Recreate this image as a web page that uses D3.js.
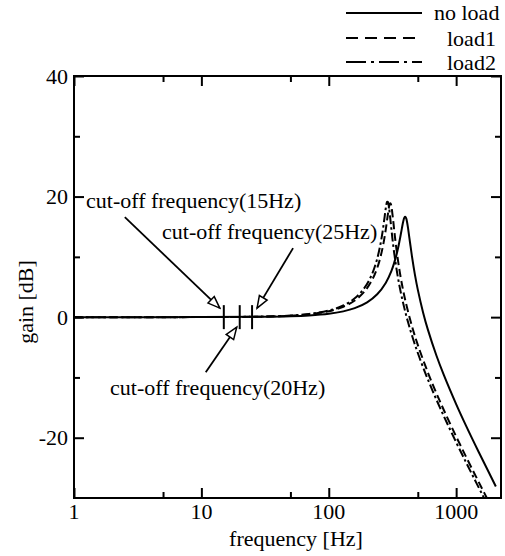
<!DOCTYPE html>
<html><head><meta charset="utf-8">
<script src="https://cdn.jsdelivr.net/npm/d3@7"></script>
<style>
body{margin:0;background:#fff}
svg{display:block}
text{font-family:"Liberation Serif","Times New Roman",serif;font-size:22px;fill:#000}
</style>
</head><body><svg id="c" width="505" height="556"></svg>
<script>
// ---- data ----
const seriesNames = ["no load", "load1", "load2"];
const noLoadFreq = [1,10,30,50,70,100,130,160,200,240,280,310,340,360,375,385,392,398,405,412,420,435,450,475,500,550,600,700,800,1000,1200,1500,1800,2050];
const noLoadGain = [0,0.01,0.05,0.14,0.27,0.55,0.96,1.49,2.46,3.8,5.68,7.63,10.33,12.71,14.73,15.94,16.51,16.67,16.42,15.74,14.64,12.3,10.09,7.02,4.56,0.79,-2.07,-6.36,-9.58,-14.42,-18.08,-22.33,-25.69,-28.1];
const load1Freq = [1,10,30,50,70,100,130,160,190,220,245,265,280,290,297,302,306,311,318,328,340,360,380,400,450,500,600,700,800,1000,1200,1400,1600,1750];
const load1Gain = [0,0.01,0.08,0.24,0.47,0.98,1.73,2.77,4.21,6.26,8.72,11.56,14.49,16.8,18.26,18.85,18.85,18.24,16.65,14.04,11.25,7.63,4.88,2.67,-1.5,-4.6,-9.18,-12.62,-15.4,-19.79,-23.22,-26.05,-28.47,-30.08];
const load2Freq = [1,10,30,50,70,100,130,160,190,215,235,252,265,275,282,287,291,296,303,313,325,345,365,390,420,470,550,650,800,1000,1200,1400,1600,1700];
const load2Gain = [0,0.01,0.09,0.26,0.52,1.09,1.93,3.12,4.8,6.79,9,11.61,14.28,16.77,18.42,19.12,19.13,18.44,16.66,13.84,10.93,7.22,4.43,1.7,-0.9,-4.28,-8.32,-12.11,-16.41,-20.75,-24.15,-26.97,-29.38,-30.47];
const xTickValues = [1, 10, 100, 1000];
const xMinorTicks = [5, 50, 500];
const yTickValues = [40, 20, 0, -20];
const yMinorTicks = [30, 10, -10];
const cutoffFreqs = [15, 20, 25];
const cutoffLabels = ["cut-off frequency(15Hz)", "cut-off frequency(20Hz)", "cut-off frequency(25Hz)"];

// ---- layout ----
const svg = d3.select("#c");
const L = 74, R = 501, T = 76, B = 498;
const x = d3.scaleLog().domain([1, 2250]).range([L, R]);
const y = d3.scaleLinear().domain([-30, 40]).range([B, T]);

const defs = svg.append("defs");
defs.append("clipPath").attr("id", "clip").append("rect")
  .attr("x", L).attr("y", T).attr("width", R - L).attr("height", B - T);
defs.append("marker").attr("id", "arr")
  .attr("viewBox", "-14 -7 16 14").attr("refX", 0).attr("refY", 0)
  .attr("markerWidth", 16).attr("markerHeight", 14)
  .attr("markerUnits", "userSpaceOnUse").attr("orient", "auto")
  .append("path").attr("d", "M0,0L-12,-4.5L-12,4.5Z")
  .attr("fill", "#fff").attr("stroke", "#000").attr("stroke-width", 1.5);

// axes ticks (inward on all sides)
function styleAxis(g) {
  g.select(".domain").remove();
  g.selectAll(".tick line").attr("stroke", "#000").attr("stroke-width", 2);
  g.selectAll(".tick text").remove();
}
svg.append("g").attr("transform", `translate(0,${B})`)
  .call(d3.axisBottom(x).tickValues(xTickValues).tickSize(-10)).call(styleAxis);
svg.append("g").attr("transform", `translate(0,${B})`)
  .call(d3.axisBottom(x).tickValues(xMinorTicks).tickSize(-6)).call(styleAxis);
svg.append("g").attr("transform", `translate(0,${T})`)
  .call(d3.axisTop(x).tickValues(xTickValues).tickSize(-10)).call(styleAxis);
svg.append("g").attr("transform", `translate(0,${T})`)
  .call(d3.axisTop(x).tickValues(xMinorTicks).tickSize(-6)).call(styleAxis);
svg.append("g").attr("transform", `translate(${L},0)`)
  .call(d3.axisLeft(y).tickValues(yTickValues).tickSize(-10)).call(styleAxis);
svg.append("g").attr("transform", `translate(${L},0)`)
  .call(d3.axisLeft(y).tickValues(yMinorTicks).tickSize(-6)).call(styleAxis);
svg.append("g").attr("transform", `translate(${R},0)`)
  .call(d3.axisRight(y).tickValues(yTickValues).tickSize(-10)).call(styleAxis);
svg.append("g").attr("transform", `translate(${R},0)`)
  .call(d3.axisRight(y).tickValues(yMinorTicks).tickSize(-6)).call(styleAxis);

svg.append("rect").attr("x", L).attr("y", T).attr("width", R - L).attr("height", B - T)
  .attr("fill", "none").attr("stroke", "#000").attr("stroke-width", 2);

// tick labels
svg.append("g").selectAll("text").data(xTickValues).join("text")
  .attr("x", d => x(d)).attr("y", 519).attr("text-anchor", "middle").text(d => d);
svg.append("g").selectAll("text").data(yTickValues).join("text")
  .attr("x", L - 6).attr("y", d => y(d)).attr("dy", "0.35em").attr("text-anchor", "end").text(d => d);

// axis titles
svg.append("text").attr("x", 296).attr("y", 546).attr("text-anchor", "middle").text("frequency [Hz]");
svg.append("text").attr("transform", "translate(33,302) rotate(-90)").attr("text-anchor", "middle").text("gain [dB]");

// curves
const series = [
  {freq: noLoadFreq, gain: noLoadGain, dash: null},
  {freq: load1Freq, gain: load1Gain, dash: "8,4"},
  {freq: load2Freq, gain: load2Gain, dash: "9,3,2.5,3"}
];
const line = d3.line().x(d => x(d[0])).y(d => y(d[1])).curve(d3.curveCatmullRom.alpha(0.5));
svg.append("g").attr("clip-path", "url(#clip)").selectAll("path").data(series).join("path")
  .attr("d", s => line(d3.zip(s.freq, s.gain)))
  .attr("fill", "none").attr("stroke", "#000").attr("stroke-width", 2)
  .attr("stroke-dasharray", s => s.dash);

// cut-off marks
svg.append("g").selectAll("line").data(cutoffFreqs).join("line")
  .attr("x1", d => x(d)).attr("x2", d => x(d))
  .attr("y1", y(0) - 12).attr("y2", y(0) + 12)
  .attr("stroke", "#000").attr("stroke-width", 2);

// annotations: arrow tip offsets relative to mark, start offsets relative to tip
const arrowTip = [[-4, -9], [-3, 10], [5, -9]];
const arrowStart = [[-95, -91], [-31, 45], [36, -60]];
const labelPos = [[86, 208], [110, 395], [162, 239]];
cutoffFreqs.forEach((f, i) => {
  const tx = x(f) + arrowTip[i][0], ty = y(0) + arrowTip[i][1];
  svg.append("line")
    .attr("x1", tx + arrowStart[i][0]).attr("y1", ty + arrowStart[i][1])
    .attr("x2", tx).attr("y2", ty)
    .attr("stroke", "#000").attr("stroke-width", 1.8)
    .attr("marker-end", "url(#arr)");
  svg.append("text").attr("x", labelPos[i][0]).attr("y", labelPos[i][1]).text(cutoffLabels[i]);
});

// legend
const legDash = [null, "12,7", "20,5,3,5"];
const legLineEnd = [422, 415, 422];
const legY = [13, 38, 62];
const legTextX = [434, 447, 447];
const legTextY = [20, 46, 70];
seriesNames.forEach((n, i) => {
  svg.append("line").attr("x1", 346).attr("x2", legLineEnd[i]).attr("y1", legY[i]).attr("y2", legY[i])
    .attr("stroke", "#000").attr("stroke-width", 2).attr("stroke-dasharray", legDash[i]);
  svg.append("text").attr("x", legTextX[i]).attr("y", legTextY[i]).text(n);
});
</script>
</body></html>
